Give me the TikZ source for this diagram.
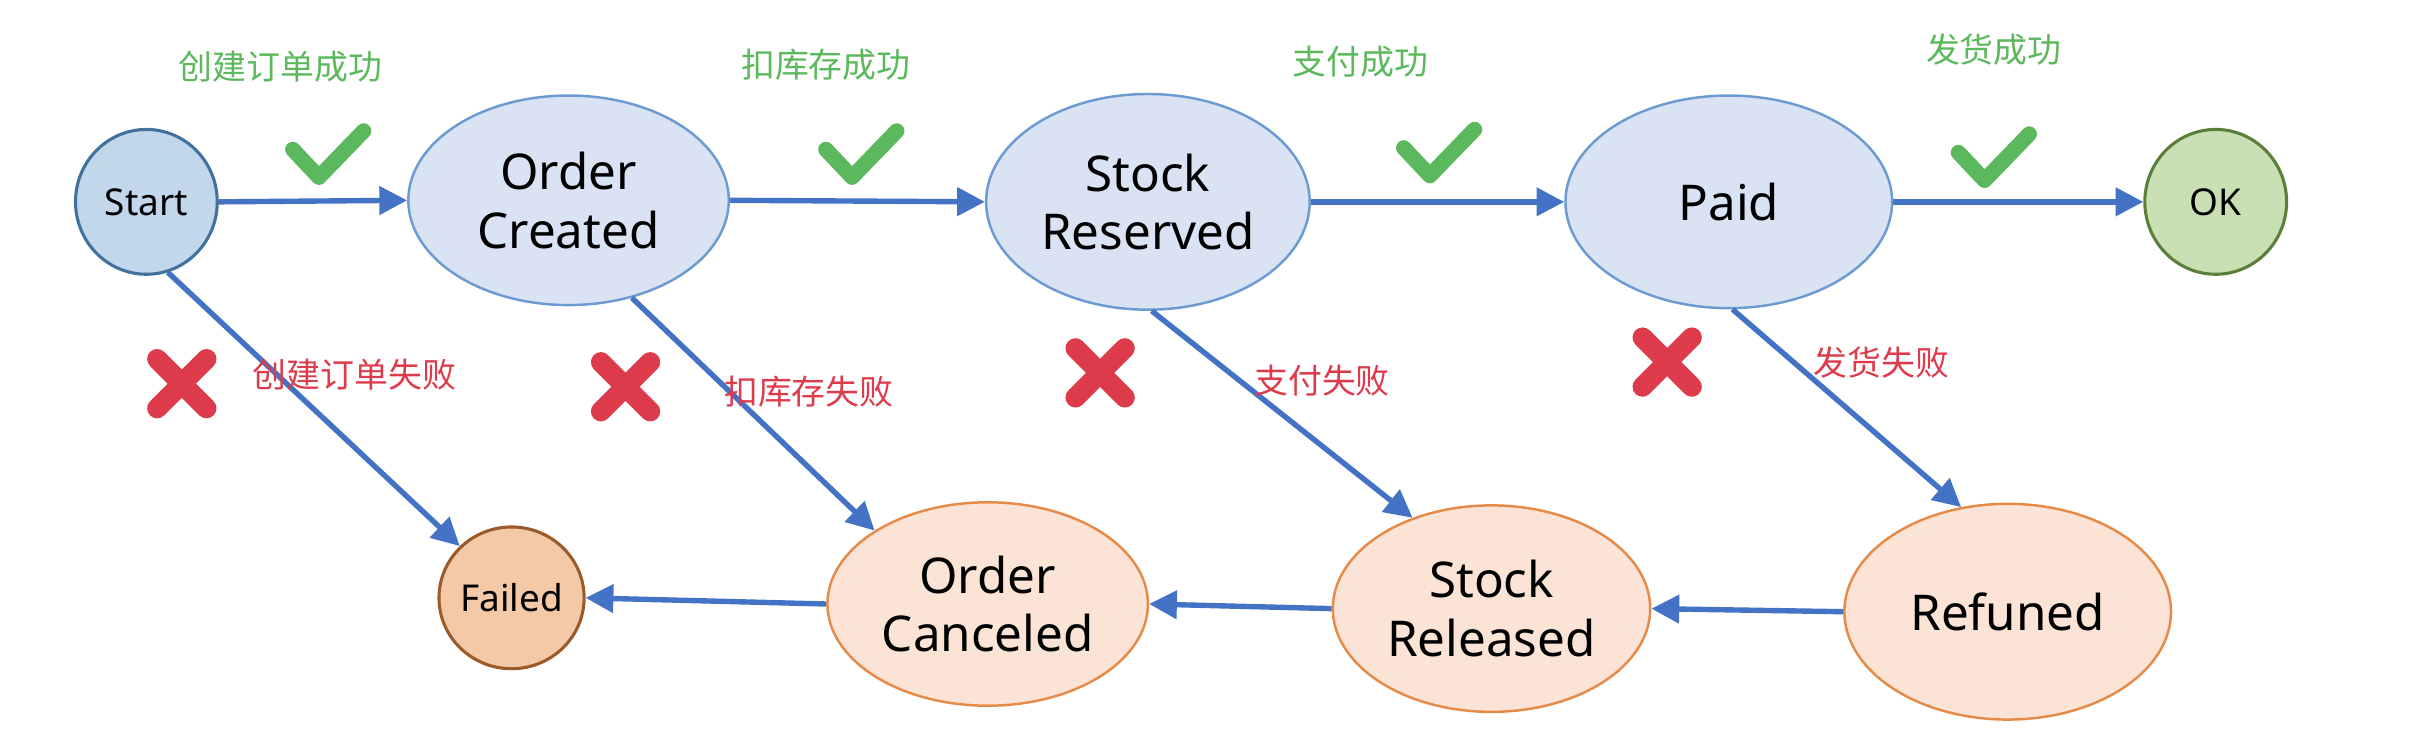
\documentclass[tikz,border=0pt]{standalone}
\usepackage{fontspec}
\setmainfont{Noto Sans}
\newfontfamily\cjk{Noto Sans CJK SC}
\usetikzlibrary{shapes.geometric,arrows.meta}
\definecolor{arrowblue}{HTML}{4472C4}
\definecolor{topfill}{HTML}{DAE3F3}
\definecolor{topline}{HTML}{6C9BD2}
\definecolor{startfill}{HTML}{C2D6EC}
\definecolor{startline}{HTML}{41719C}
\definecolor{okfill}{HTML}{C9E0B4}
\definecolor{okline}{HTML}{5A7F3A}
\definecolor{failfill}{HTML}{F3C9A8}
\definecolor{failline}{HTML}{9B5A2A}
\definecolor{botfill}{HTML}{FBE4D5}
\definecolor{botline}{HTML}{E68A48}
\definecolor{okgreen}{HTML}{5CB85C}
\definecolor{xred}{HTML}{DD3B4B}
\tikzset{
  big/.style={ellipse, draw, line width=1.6pt, inner sep=0pt, align=center,
    font=\fontsize{32}{38}\selectfont},
  small/.style={ellipse, draw, line width=2pt, inner sep=0pt, align=center,
    font=\fontsize{24}{28}\selectfont},
  topstate/.style={big, fill=topfill, draw=topline},
  botstate/.style={big, fill=botfill, draw=botline},
  flow/.style={draw=arrowblue, line width=3.5pt,
    -{Triangle[length=18pt,width=18pt]}},
  oklabel/.style={text=okgreen, font=\cjk\fontsize{22}{26}\selectfont},
  faillabel/.style={text=xred, font=\cjk\fontsize{22}{26}\selectfont},
  chk/.pic={\draw[line width=10pt, draw=okgreen, line cap=round, line join=round]
    (-22,-3) -- (-5,15) -- (24,-15);},
  crs/.pic={\draw[line width=13pt, draw=xred, line cap=round]
    (-16,-16) -- (16,16) (-16,16) -- (16,-16);}
}
\begin{document}
\begin{tikzpicture}[x=1pt,y=-1pt]
\useasboundingbox (0,0) rectangle (1568,487);
% states
\node[small, fill=startfill, draw=startline, minimum width=92pt, minimum height=94pt] (start) at (95,131) {Start};
\node[topstate, minimum width=208pt, minimum height=136pt] (oc) at (369,130) {Order\\Created};
\node[topstate, minimum width=210pt, minimum height=140pt] (sres) at (745,131) {Stock\\Reserved};
\node[topstate, minimum width=212pt, minimum height=138pt] (paid) at (1122,131) {Paid};
\node[small, fill=okfill, draw=okline, minimum width=92pt, minimum height=94pt] (ok) at (1438,131) {OK};
\node[small, fill=failfill, draw=failline, minimum width=90pt, minimum height=92pt] (failed) at (332,388) {Failed};
\node[botstate, minimum width=208pt, minimum height=132pt] (ocan) at (641,392) {Order\\Canceled};
\node[botstate, minimum width=206pt, minimum height=134pt] (srel) at (968,395) {Stock\\Released};
\node[botstate, minimum width=212pt, minimum height=140pt] (ref) at (1303,397) {Refuned};
% success edges
\draw[flow] (start.east) -- (oc.west);
\draw[flow] (oc.east) -- (sres.west);
\draw[flow] (sres.east) -- (paid.west);
\draw[flow] (paid.east) -- (ok.west);
% failure edges
\draw[flow] (start.-73) -- (failed.135);
\draw[flow] (oc.-57) -- (ocan.147);
\draw[flow] (sres.-88) -- (srel.131);
\draw[flow] (paid.-88) -- (ref.114);
\draw[flow] (ocan.west) -- (failed.east);
\draw[flow] (srel.west) -- (ocan.east);
\draw[flow] (ref.west) -- (srel.east);
% labels
\node[oklabel] (l1) at (182,43) {创建订单成功};
\node[oklabel] (l2) at (536,42) {扣库存成功};
\node[oklabel] (l3) at (883,40) {支付成功};
\node[oklabel] (l4) at (1294,32) {发货成功};
\node[faillabel] (f1) at (230,243) {创建订单失败};
\node[faillabel] (f2) at (525,254) {扣库存失败};
\node[faillabel] (f3) at (858,247) {支付失败};
\node[faillabel] (f4) at (1221,235) {发货失败};
% marks
\pic at (212,100) {chk};
\pic at (558,100) {chk};
\pic at (933,99) {chk};
\pic at (1293,102) {chk};
\pic at (118,249) {crs};
\pic at (406,251) {crs};
\pic at (714,242) {crs};
\pic at (1082,235) {crs};
\end{tikzpicture}
\end{document}
